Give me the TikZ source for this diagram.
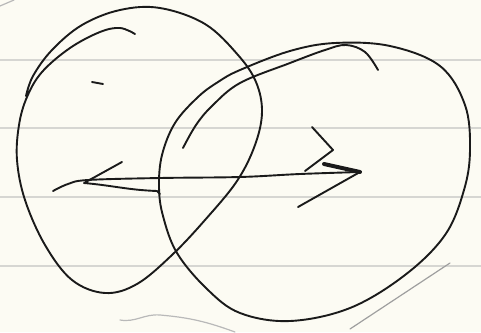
\documentclass[tikz,border=0pt]{standalone}
\usetikzlibrary{calc}
\definecolor{paper}{HTML}{FCFBF3}
\definecolor{ruling}{HTML}{D6D6D2}
\definecolor{pen}{HTML}{1A1A1A}
\tikzset{
  ink/.style={draw=pen, line width=1.9pt, line cap=round, line join=round},
  rule/.style={draw=ruling, line width=1.2pt},
  faint/.style={draw=gray!75, line width=1.2pt, line cap=round}
}

\begin{document}
\begin{tikzpicture}[x=1pt, y=-1pt]
  % paper and ruled lines
  \fill[paper] (0,0) rectangle (481,332);
  \useasboundingbox (0,0) rectangle (481,332);
  \foreach \yy in {60,128,197,266} {
    \draw[rule] (0,\yy) -- (481,\yy);
  }

  % left loop, drawn in one stroke
  \draw[ink] plot[smooth, tension=0.6] coordinates {
    (135,34) (120,28) (100,32) (70,48) (42,72) (27,97) (19,125) (17,160)
    (25,200) (45,245) (72,280) (105,293) (137,284) (172,255) (205,220)
    (237,181) (255,145) (262,112) (256,82) (238,55) (205,24) (160,8)
    (120,10) (82,25) (52,50) (33,76) (26,96)};
  \draw[ink] (92,82) -- (103,84);

  % right loop with its inner arc
  \draw[ink] plot[smooth cycle, tension=0.6] coordinates {
    (240,70) (290,51) (335,43) (390,46) (440,66) (465,105) (470,150)
    (464,190) (445,235) (405,275) (350,308) (290,321) (240,313) (207,289)
    (177,253) (163,216) (159,187) (162,155) (175,123) (198,97) (218,82)};
  \draw[ink] plot[smooth, tension=0.6] coordinates {
    (183,148) (196,125) (212,106) (240,83) (290,63) (325,50) (346,45)
    (365,52) (378,70)};

  % double arrow across both loops
  \coordinate (lefttip) at (84,183);
  \coordinate (righttip) at (360,172);
  \draw[ink] plot[smooth, tension=0.6] coordinates {
    (53,191) (68,184) (88,180) (160,178) (240,177) (300,174) (360,172)};
  \draw[ink] (122,162) -- (lefttip) to[out=-5, in=178] (157,191) -- (160,194);
  \draw[ink] (312,127) -- (333,150) -- (305,171);
  \draw[ink, line width=4pt] (324,164) -- (righttip);
  \draw[ink] (righttip) -- (298,207);

  % stray marks on the page
  \draw[faint] (450,263) -- (350,329);
  \draw[faint, gray!55] (120,320) to[out=-10, in=175] (160,315) to[out=-5, in=160] (235,332);
  \draw[faint, gray!55] (0,6) -- (14,0);
\end{tikzpicture}
\end{document}
